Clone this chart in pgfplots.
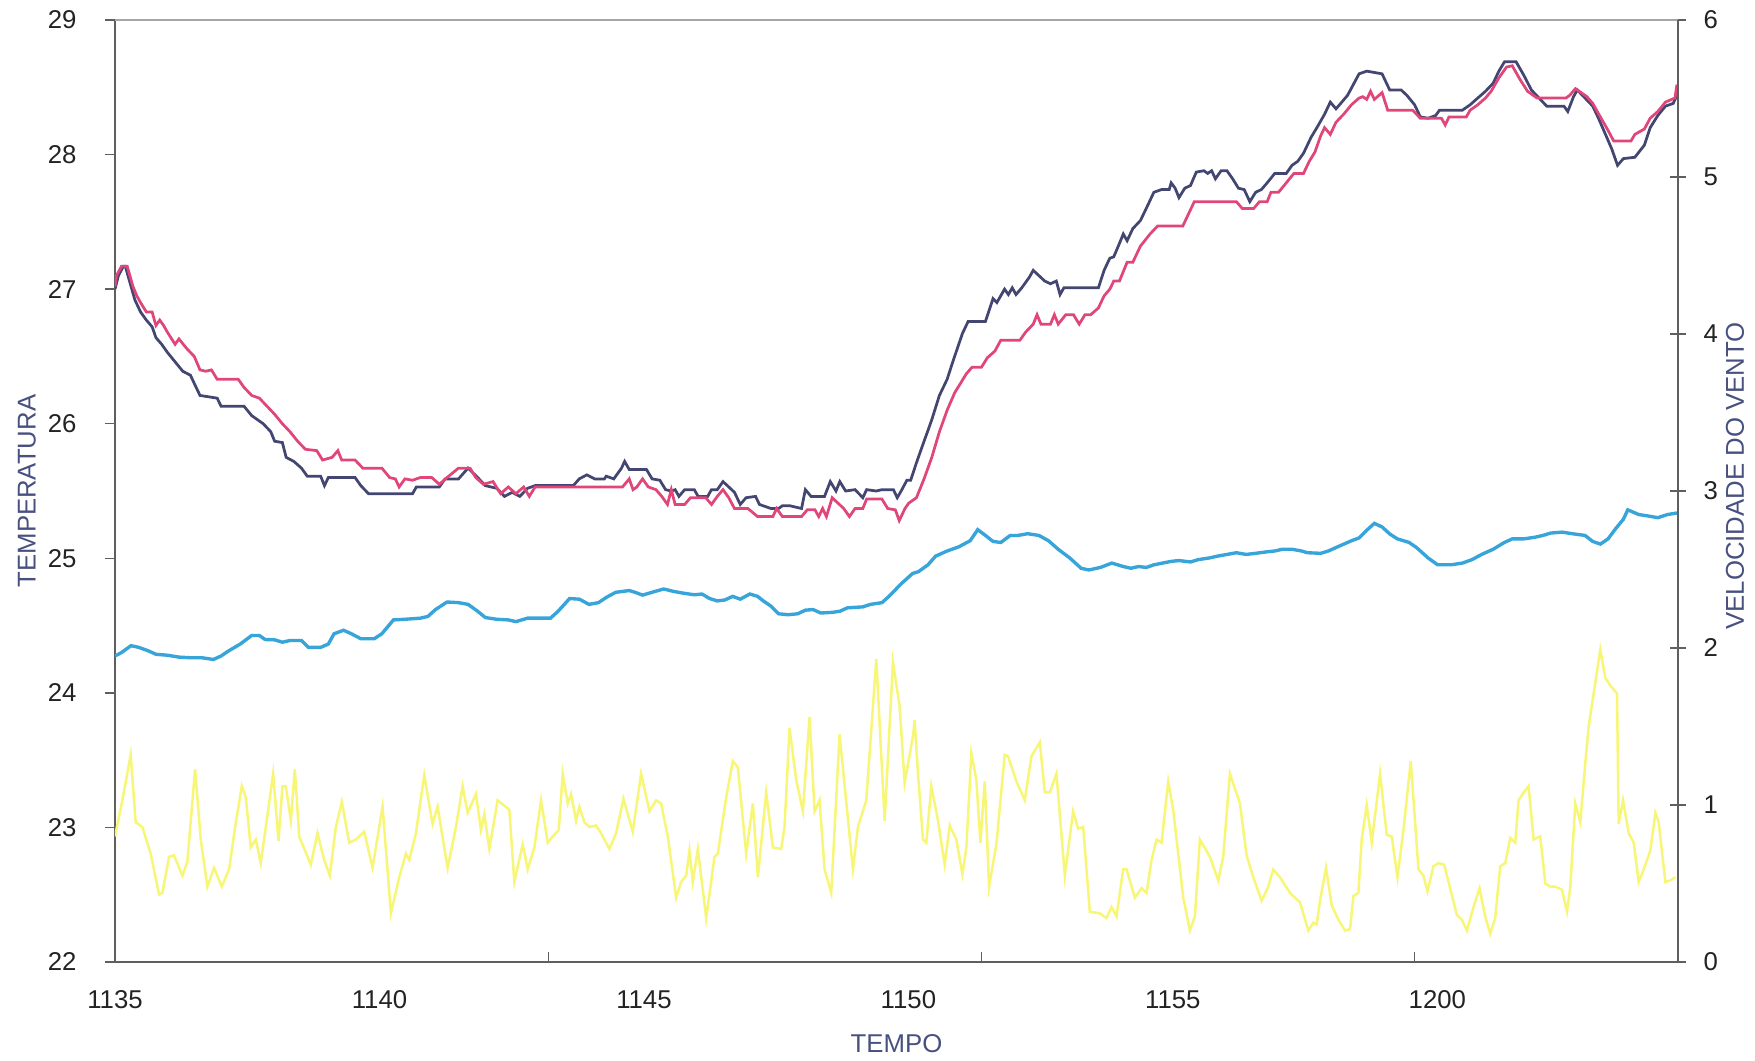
\documentclass[border=0pt]{standalone}
\usepackage{fontspec}
\setmainfont{Liberation Sans}
\usepackage{pgfplots}
\pgfplotsset{compat=1.18}
\definecolor{navyT}{RGB}{66,70,112}
\definecolor{pinkT}{RGB}{224,70,122}
\definecolor{blueV}{RGB}{55,164,218}
\definecolor{yellowV}{RGB}{248,246,118}
\definecolor{titlec}{RGB}{72,80,128}
\definecolor{tickc}{RGB}{35,35,35}
\definecolor{axisc}{RGB}{95,95,95}
\begin{document}
\fontsize{10.3}{12}\selectfont
\begin{tikzpicture}
\path[use as bounding box] (-46pt,-39.2pt) rectangle (656pt,384.8pt);
\begin{axis}[
  at={(0,0)}, anchor=south west,
  scale only axis, width=625.2pt, height=376.8pt,
  xmin=0, xmax=29.55, ymin=22, ymax=29,
  axis x line*=bottom, axis y line*=left,
  xtick={0,5,10,15,20,25},
  xticklabels={1135,1140,1145,1150,1155,1200},
  xtick style={draw=none},
  extra x ticks={8.19,16.38,24.57},
  extra x tick labels={},
  extra x tick style={xtick style={draw=axisc}, tick align=inside},
  ytick={22,23,24,25,26,27,28,29},
  tick align=outside,
  major tick length=4pt,
  axis line style={draw=axisc, line width=0.6pt},
  ytick style={draw=axisc, line width=0.6pt},
  ticklabel style={text=tickc},
  /pgf/number format/assume math mode=true,
  xticklabel style={inner sep=0pt, anchor=north, yshift=-7.2pt},
  yticklabel style={inner sep=0pt, anchor=east, xshift=-11.2pt},
  xlabel={TEMPO}, ylabel={TEMPERATURA},
  every axis x label/.style={at={(axis description cs:0.5,-0.087)}, anchor=center, text=titlec},
  every axis y label/.style={at={(axis description cs:-0.0563,0.5)}, rotate=90, anchor=center, text=titlec},
]
\addplot[navyT, line width=1.1pt, no markers] coordinates {
(0,27.00)(0.064,27.10)(0.159,27.17)(0.195,27.17)(0.303,27.02)(0.376,26.92)(0.484,26.83)(0.593,26.77)(0.702,26.72)(0.774,26.64)(0.883,26.59)(0.991,26.53)(1.136,26.46)(1.281,26.39)(1.427,26.36)(1.498,26.30)(1.607,26.21)(1.932,26.19)(2.005,26.13)(2.439,26.13)(2.585,26.06)(2.802,26.00)(2.946,25.94)(3.018,25.87)(3.164,25.86)(3.236,25.75)(3.381,25.72)(3.525,25.67)(3.635,25.61)(3.888,25.61)(3.960,25.54)(4.033,25.60)(4.539,25.60)(4.647,25.54)(4.793,25.48)(5.626,25.48)(5.697,25.53)(6.132,25.53)(6.240,25.59)(6.494,25.59)(6.675,25.67)(6.857,25.60)(7.001,25.54)(7.218,25.52)(7.364,25.46)(7.508,25.49)(7.654,25.46)(7.798,25.52)(7.943,25.54)(8.666,25.54)(8.776,25.59)(8.921,25.62)(9.069,25.59)(9.251,25.59)(9.287,25.61)(9.430,25.59)(9.576,25.67)(9.635,25.72)(9.722,25.66)(10.047,25.66)(10.155,25.59)(10.301,25.58)(10.409,25.51)(10.517,25.50)(10.590,25.51)(10.662,25.46)(10.770,25.51)(10.952,25.51)(11.024,25.46)(11.205,25.46)(11.277,25.51)(11.387,25.51)(11.495,25.57)(11.604,25.53)(11.712,25.49)(11.821,25.40)(11.930,25.45)(12.110,25.46)(12.184,25.40)(12.401,25.37)(12.545,25.37)(12.617,25.39)(12.763,25.39)(12.980,25.37)(13.052,25.51)(13.160,25.46)(13.414,25.46)(13.523,25.57)(13.631,25.50)(13.703,25.57)(13.813,25.50)(13.992,25.51)(14.138,25.45)(14.210,25.51)(14.392,25.50)(14.500,25.51)(14.717,25.51)(14.789,25.45)(14.863,25.50)(14.971,25.58)(15.043,25.58)(15.152,25.71)(15.296,25.87)(15.370,25.95)(15.442,26.03)(15.586,26.21)(15.732,26.33)(15.839,26.46)(16.021,26.67)(16.129,26.76)(16.456,26.76)(16.600,26.93)(16.672,26.90)(16.818,27.00)(16.890,26.96)(16.963,27.01)(17.035,26.96)(17.143,27.01)(17.289,27.09)(17.360,27.14)(17.468,27.10)(17.578,27.06)(17.686,27.04)(17.796,27.06)(17.867,26.96)(17.940,27.01)(18.592,27.01)(18.700,27.14)(18.808,27.23)(18.882,27.24)(18.990,27.34)(19.062,27.41)(19.135,27.36)(19.243,27.45)(19.387,27.51)(19.497,27.60)(19.641,27.72)(19.786,27.74)(19.930,27.74)(19.968,27.79)(20.043,27.75)(20.115,27.68)(20.225,27.75)(20.333,27.77)(20.443,27.87)(20.587,27.88)(20.659,27.86)(20.733,27.88)(20.804,27.82)(20.912,27.88)(21.022,27.88)(21.130,27.82)(21.240,27.75)(21.348,27.74)(21.455,27.65)(21.565,27.72)(21.673,27.74)(21.783,27.79)(21.926,27.86)(22.144,27.86)(22.252,27.92)(22.361,27.95)(22.470,28.01)(22.615,28.13)(22.723,28.20)(22.868,28.30)(22.976,28.39)(23.084,28.34)(23.194,28.39)(23.302,28.44)(23.411,28.52)(23.520,28.60)(23.665,28.62)(23.809,28.61)(23.955,28.60)(24.099,28.48)(24.316,28.48)(24.424,28.44)(24.570,28.37)(24.678,28.28)(24.824,28.27)(24.967,28.29)(25.041,28.33)(25.474,28.33)(25.620,28.37)(25.764,28.42)(25.909,28.47)(26.055,28.53)(26.163,28.62)(26.271,28.69)(26.488,28.69)(26.634,28.59)(26.778,28.48)(26.923,28.42)(27.067,28.36)(27.393,28.36)(27.466,28.32)(27.574,28.43)(27.646,28.48)(27.792,28.42)(27.938,28.36)(28.046,28.27)(28.190,28.14)(28.299,28.04)(28.407,27.92)(28.517,27.97)(28.734,27.98)(28.914,28.07)(29.024,28.20)(29.168,28.29)(29.313,28.36)(29.458,28.38)(29.530,28.44)
};
\addplot[pinkT, line width=1.1pt, no markers] coordinates {
(0,27.02)(0.028,27.10)(0.123,27.17)(0.231,27.17)(0.340,27.02)(0.412,26.95)(0.484,26.90)(0.593,26.83)(0.702,26.83)(0.774,26.73)(0.846,26.77)(0.919,26.73)(0.991,26.68)(1.136,26.59)(1.209,26.63)(1.353,26.56)(1.498,26.50)(1.607,26.40)(1.716,26.39)(1.824,26.40)(1.932,26.33)(2.331,26.33)(2.439,26.27)(2.585,26.21)(2.729,26.19)(2.874,26.13)(3.018,26.07)(3.164,26.00)(3.309,25.94)(3.453,25.87)(3.599,25.81)(3.815,25.80)(3.924,25.73)(4.104,25.75)(4.214,25.80)(4.286,25.73)(4.539,25.73)(4.685,25.67)(5.046,25.67)(5.192,25.60)(5.300,25.59)(5.372,25.53)(5.481,25.59)(5.626,25.58)(5.771,25.60)(5.989,25.60)(6.132,25.55)(6.278,25.60)(6.494,25.67)(6.712,25.67)(6.821,25.60)(6.965,25.55)(7.147,25.57)(7.291,25.48)(7.436,25.53)(7.580,25.48)(7.726,25.53)(7.833,25.46)(7.943,25.53)(9.595,25.53)(9.722,25.59)(9.794,25.51)(9.866,25.53)(9.974,25.59)(10.083,25.53)(10.227,25.51)(10.337,25.46)(10.445,25.40)(10.517,25.51)(10.590,25.40)(10.770,25.40)(10.880,25.45)(11.169,25.45)(11.277,25.40)(11.387,25.46)(11.495,25.51)(11.604,25.45)(11.712,25.37)(11.966,25.37)(12.148,25.31)(12.437,25.31)(12.509,25.37)(12.617,25.31)(12.980,25.31)(13.088,25.36)(13.233,25.36)(13.305,25.31)(13.378,25.37)(13.450,25.31)(13.559,25.45)(13.777,25.37)(13.885,25.31)(13.992,25.37)(14.138,25.37)(14.210,25.44)(14.500,25.44)(14.609,25.37)(14.753,25.36)(14.827,25.28)(14.935,25.37)(15.007,25.41)(15.152,25.45)(15.296,25.59)(15.442,25.75)(15.586,25.94)(15.732,26.10)(15.875,26.23)(15.985,26.30)(16.093,26.37)(16.203,26.42)(16.382,26.42)(16.492,26.49)(16.636,26.54)(16.746,26.62)(17.107,26.62)(17.215,26.68)(17.360,26.74)(17.432,26.81)(17.506,26.74)(17.686,26.74)(17.760,26.81)(17.832,26.74)(17.976,26.81)(18.121,26.81)(18.229,26.74)(18.339,26.81)(18.447,26.81)(18.592,26.86)(18.700,26.95)(18.808,27.00)(18.882,27.06)(18.990,27.06)(19.135,27.20)(19.243,27.20)(19.387,27.32)(19.569,27.41)(19.714,27.47)(20.189,27.47)(20.405,27.65)(21.201,27.65)(21.311,27.60)(21.529,27.60)(21.637,27.65)(21.783,27.65)(21.854,27.72)(21.998,27.72)(22.144,27.79)(22.288,27.86)(22.470,27.86)(22.579,27.95)(22.687,28.02)(22.795,28.14)(22.868,28.20)(22.976,28.15)(23.084,28.24)(23.230,28.30)(23.376,28.37)(23.520,28.42)(23.591,28.43)(23.665,28.41)(23.737,28.47)(23.809,28.41)(23.955,28.46)(24.062,28.33)(24.534,28.33)(24.606,28.30)(24.678,28.27)(25.077,28.27)(25.149,28.22)(25.221,28.28)(25.548,28.28)(25.620,28.33)(25.764,28.37)(25.909,28.42)(26.017,28.47)(26.163,28.57)(26.307,28.65)(26.416,28.66)(26.560,28.56)(26.706,28.47)(26.885,28.42)(27.430,28.42)(27.502,28.44)(27.610,28.49)(27.720,28.46)(27.828,28.43)(27.938,28.38)(28.082,28.28)(28.227,28.18)(28.335,28.10)(28.660,28.10)(28.734,28.15)(28.914,28.19)(29.024,28.27)(29.168,28.32)(29.313,28.39)(29.492,28.42)(29.530,28.52)
};
\end{axis}
\begin{axis}[
  at={(0,0)}, anchor=south west,
  scale only axis, width=625.2pt, height=376.8pt,
  xmin=0, xmax=29.55, ymin=0, ymax=6,
  axis x line*=top, axis y line*=right,
  xtick=\empty,
  ytick={0,1,2,3,4,5,6},
  tick align=center, major tick length=6.4pt,
  x axis line style={draw=black!35, line width=0.6pt},
  y axis line style={draw=axisc, line width=0.6pt},
  ytick style={draw=axisc, line width=0.6pt},
  ticklabel style={text=tickc},
  /pgf/number format/assume math mode=true,
  yticklabel style={inner sep=0pt, anchor=west, xshift=6.8pt},
  ylabel={VELOCIDADE DO VENTO},
  every axis y label/.style={at={(axis description cs:1.0365,0.516)}, rotate=90, anchor=center, text=titlec},
]
\addplot[blueV, line width=1.35pt, no markers] coordinates {
(0,1.949)(0.123,1.971)(0.303,2.015)(0.449,2.004)(0.630,1.982)(0.774,1.960)(0.991,1.954)(1.209,1.942)(1.427,1.938)(1.643,1.938)(1.860,1.927)(2.005,1.949)(2.150,1.982)(2.367,2.025)(2.585,2.080)(2.729,2.080)(2.838,2.054)(3.018,2.052)(3.164,2.037)(3.309,2.048)(3.525,2.048)(3.656,2.004)(3.888,2.004)(4.033,2.025)(4.142,2.091)(4.322,2.113)(4.467,2.091)(4.649,2.059)(4.901,2.059)(5.046,2.091)(5.264,2.179)(5.481,2.183)(5.771,2.190)(5.915,2.201)(6.060,2.245)(6.278,2.293)(6.494,2.289)(6.675,2.278)(6.857,2.234)(7.001,2.194)(7.218,2.183)(7.436,2.179)(7.580,2.168)(7.798,2.190)(8.233,2.190)(8.377,2.234)(8.594,2.315)(8.780,2.311)(8.961,2.278)(9.141,2.289)(9.287,2.322)(9.468,2.355)(9.722,2.366)(9.830,2.355)(9.974,2.337)(10.155,2.355)(10.373,2.376)(10.554,2.361)(10.734,2.350)(10.952,2.339)(11.097,2.344)(11.242,2.315)(11.387,2.300)(11.531,2.306)(11.677,2.329)(11.821,2.311)(12.002,2.344)(12.148,2.329)(12.256,2.300)(12.401,2.267)(12.545,2.218)(12.727,2.212)(12.907,2.218)(13.052,2.241)(13.196,2.245)(13.342,2.223)(13.559,2.227)(13.703,2.234)(13.849,2.256)(14.138,2.262)(14.284,2.278)(14.500,2.289)(14.645,2.333)(14.863,2.409)(15.080,2.475)(15.188,2.486)(15.370,2.530)(15.514,2.585)(15.732,2.618)(15.949,2.644)(16.167,2.683)(16.311,2.754)(16.456,2.717)(16.600,2.679)(16.746,2.672)(16.925,2.717)(17.071,2.717)(17.253,2.728)(17.468,2.717)(17.650,2.683)(17.832,2.629)(18.049,2.574)(18.265,2.508)(18.411,2.497)(18.628,2.513)(18.846,2.541)(19.062,2.519)(19.207,2.508)(19.351,2.519)(19.497,2.513)(19.641,2.530)(19.972,2.552)(20.115,2.557)(20.333,2.548)(20.479,2.563)(20.696,2.574)(20.840,2.585)(21.022,2.596)(21.201,2.607)(21.383,2.596)(21.565,2.603)(21.783,2.613)(21.926,2.618)(22.072,2.629)(22.252,2.629)(22.433,2.618)(22.541,2.607)(22.795,2.603)(22.940,2.618)(23.158,2.651)(23.376,2.683)(23.520,2.701)(23.665,2.750)(23.809,2.794)(23.955,2.771)(24.099,2.727)(24.244,2.695)(24.462,2.673)(24.606,2.640)(24.824,2.574)(25.005,2.530)(25.259,2.530)(25.474,2.541)(25.656,2.563)(25.837,2.596)(26.055,2.629)(26.271,2.673)(26.416,2.695)(26.634,2.695)(26.850,2.706)(26.995,2.717)(27.141,2.732)(27.357,2.738)(27.574,2.727)(27.792,2.717)(27.936,2.679)(28.082,2.662)(28.227,2.695)(28.371,2.760)(28.517,2.82)(28.60,2.88)(28.81,2.85)(29.00,2.84)(29.17,2.83)(29.35,2.85)(29.53,2.86)
};
\addplot[yellowV, line width=1pt, no markers] coordinates {
(0,0.80)(0.139,1.03)(0.296,1.32)(0.391,0.89)(0.517,0.86)(0.675,0.69)(0.833,0.43)(0.896,0.44)(1.022,0.67)(1.116,0.68)(1.274,0.55)(1.369,0.64)(1.514,1.23)(1.621,0.78)(1.747,0.48)(1.873,0.60)(2.018,0.48)(2.157,0.59)(2.271,0.86)(2.397,1.12)(2.472,1.05)(2.567,0.73)(2.662,0.78)(2.756,0.63)(2.851,0.86)(2.990,1.20)(3.091,0.77)(3.166,1.12)(3.229,1.12)(3.324,0.90)(3.400,1.23)(3.482,0.80)(3.702,0.62)(3.828,0.82)(3.955,0.65)(4.062,0.55)(4.175,0.86)(4.289,1.02)(4.428,0.76)(4.554,0.78)(4.711,0.83)(4.869,0.60)(5.058,0.99)(5.216,0.31)(5.374,0.54)(5.500,0.69)(5.563,0.65)(5.689,0.82)(5.847,1.19)(6.004,0.88)(6.099,0.99)(6.288,0.60)(6.446,0.86)(6.572,1.12)(6.667,0.95)(6.824,1.07)(6.919,0.84)(6.982,0.94)(7.077,0.72)(7.234,1.03)(7.455,0.97)(7.550,0.51)(7.708,0.75)(7.803,0.59)(7.928,0.73)(8.055,1.03)(8.181,0.76)(8.275,0.80)(8.389,0.84)(8.465,1.20)(8.559,1.01)(8.622,1.07)(8.717,0.90)(8.780,0.99)(8.875,0.89)(8.969,0.86)(9.095,0.87)(9.190,0.82)(9.347,0.72)(9.473,0.82)(9.612,1.04)(9.789,0.83)(9.946,1.20)(10.104,0.96)(10.230,1.03)(10.325,1.01)(10.451,0.80)(10.609,0.41)(10.703,0.51)(10.798,0.55)(10.861,0.71)(10.924,0.51)(11.019,0.72)(11.177,0.28)(11.334,0.67)(11.397,0.69)(11.555,1.05)(11.681,1.28)(11.775,1.24)(11.933,0.69)(12.059,1.01)(12.154,0.54)(12.311,1.08)(12.438,0.73)(12.595,0.72)(12.658,0.86)(12.753,1.49)(12.879,1.16)(13.005,0.96)(13.131,1.56)(13.226,0.96)(13.320,1.03)(13.415,0.59)(13.541,0.44)(13.699,1.45)(13.951,0.59)(14.046,0.86)(14.204,1.03)(14.393,1.93)(14.551,0.90)(14.708,1.91)(14.834,1.63)(14.929,1.14)(15.087,1.44)(15.118,1.54)(15.181,1.20)(15.276,0.78)(15.339,0.76)(15.433,1.12)(15.560,0.90)(15.686,0.62)(15.781,0.87)(15.907,0.78)(16.020,0.56)(16.096,0.73)(16.190,1.33)(16.285,1.16)(16.361,0.76)(16.443,1.15)(16.525,0.48)(16.663,0.75)(16.821,1.32)(16.884,1.31)(17.042,1.15)(17.200,1.03)(17.326,1.31)(17.484,1.40)(17.578,1.08)(17.673,1.08)(17.799,1.20)(17.957,0.55)(18.114,0.96)(18.209,0.85)(18.304,0.86)(18.430,0.32)(18.619,0.31)(18.745,0.28)(18.840,0.35)(18.934,0.29)(19.060,0.59)(19.124,0.59)(19.281,0.41)(19.407,0.47)(19.502,0.44)(19.597,0.65)(19.691,0.78)(19.786,0.76)(19.912,1.15)(20.006,0.97)(20.196,0.41)(20.322,0.20)(20.416,0.29)(20.511,0.78)(20.700,0.67)(20.858,0.52)(20.952,0.67)(21.078,1.20)(21.268,1.01)(21.394,0.68)(21.520,0.54)(21.678,0.39)(21.804,0.48)(21.898,0.59)(22.024,0.54)(22.214,0.44)(22.277,0.42)(22.403,0.38)(22.561,0.20)(22.656,0.25)(22.719,0.24)(22.782,0.39)(22.895,0.60)(23.003,0.36)(23.129,0.27)(23.255,0.20)(23.350,0.21)(23.413,0.42)(23.507,0.44)(23.570,0.78)(23.665,1.00)(23.760,0.76)(23.917,1.20)(24.043,0.81)(24.138,0.80)(24.245,0.54)(24.359,0.84)(24.497,1.28)(24.643,0.59)(24.737,0.55)(24.813,0.45)(24.927,0.61)(25.022,0.63)(25.129,0.62)(25.242,0.47)(25.369,0.30)(25.463,0.27)(25.558,0.20)(25.684,0.35)(25.798,0.47)(25.905,0.29)(26.000,0.18)(26.094,0.28)(26.189,0.61)(26.284,0.63)(26.379,0.79)(26.473,0.76)(26.536,1.03)(26.631,1.08)(26.725,1.12)(26.820,0.78)(26.946,0.80)(27.041,0.50)(27.135,0.48)(27.230,0.48)(27.356,0.46)(27.451,0.32)(27.514,0.48)(27.608,1.01)(27.703,0.89)(27.798,1.27)(27.861,1.50)(27.955,1.71)(28.081,1.99)(28.176,1.81)(28.271,1.76)(28.397,1.71)(28.428,0.88)(28.510,1.03)(28.618,0.82)(28.712,0.76)(28.807,0.51)(28.901,0.59)(29.027,0.71)(29.122,0.95)(29.185,0.89)(29.311,0.51)(29.406,0.52)(29.500,0.54)
};
\end{axis}
\end{tikzpicture}
\end{document}
